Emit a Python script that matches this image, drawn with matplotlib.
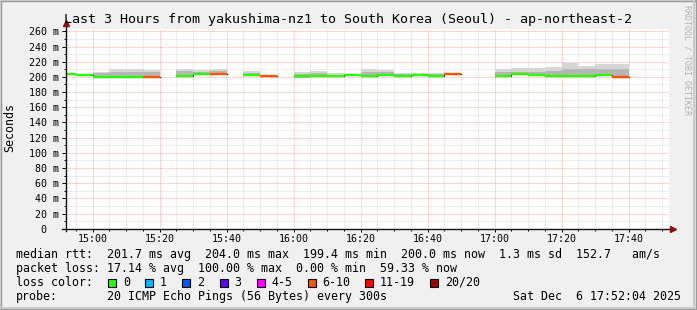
import numpy as np
import matplotlib.pyplot as plt
from matplotlib.patches import Rectangle

plt.rcParams['font.family'] = ['DejaVu Sans Mono', 'DejaVu Sans']

W, H = 697, 310


def hm(s):
    h, m = s.split(':')
    return int(h) * 60 + int(m)


def px(x, y):
    # pixel position (from top left) -> figure fraction
    return x / W, 1 - y / H


# time window of the graph
t_first = '14:52:04'
t_last = '17:52:04'

# 5 minute bins (start time), median rtt in ms, loss class index
bin_start = ['14:50', '14:55', '15:00', '15:05', '15:10', '15:15', '15:20', '15:25',
             '15:30', '15:35', '15:40', '15:45', '15:50', '15:55', '16:00', '16:05',
             '16:10', '16:15', '16:20', '16:25', '16:30', '16:35', '16:40', '16:45',
             '16:50', '16:55', '17:00', '17:05', '17:10', '17:15', '17:20', '17:25',
             '17:30', '17:35']
median = [203.8, 202.7, 200.5, 200.5, 200.5, 200.5, np.nan, 201.6,
          204.2, 204.2, np.nan, 203.0, 200.8, np.nan, 201.2, 201.2,
          201.5, 203.0, 201.2, 202.7, 201.5, 203.0, 201.5, 204.0,
          np.nan, np.nan, 201.5, 204.0, 202.3, 201.2, 201.2, 201.2,
          203.0, 200.3]
loss_idx = [0, 0, 0, 0, 0, 5, 7, 0,
            0, 5, 7, 0, 5, 7, 0, 0,
            0, 0, 0, 0, 0, 0, 0, 5,
            7, 7, 0, 0, 0, 0, 0, 0,
            0, 5]
# smoke: lowest ping, top of the dense band, highest ping
smoke_lo = [203.0, 202.0, 199.8, 199.8, 199.8, 199.8, np.nan, 200.8,
            203.4, 203.4, np.nan, 202.2, 200.0, np.nan, 198.5, 200.4,
            200.7, 202.2, 200.4, 201.9, 200.7, 202.2, 200.7, 203.2,
            np.nan, np.nan, 200.7, 203.2, 201.5, 200.4, 200.4, 200.4,
            202.2, 199.4]
smoke_mid = [203.8, 202.7, 204.5, 206.5, 206.5, 206.0, np.nan, 207.8,
             206.0, 208.0, np.nan, 205.5, 200.8, np.nan, 204.0, 205.0,
             203.0, 203.0, 207.0, 206.5, 203.5, 203.5, 203.5, 204.0,
             np.nan, np.nan, 206.0, 207.0, 207.0, 208.0, 210.0, 211.0,
             210.0, 211.0]
smoke_hi = [203.8, 202.7, 206.5, 210.0, 210.0, 209.0, np.nan, 211.0,
            208.7, 210.4, np.nan, 208.0, 200.8, np.nan, 206.4, 208.2,
            204.5, 203.0, 210.4, 209.3, 205.3, 204.5, 205.6, 204.0,
            np.nan, np.nan, 210.4, 211.3, 211.3, 213.0, 218.7, 214.4,
            217.0, 217.0]

loss_labels = ['0', '1', '2', '3', '4-5', '6-10', '11-19', '20/20']
loss_colors = ['#26ff00', '#00b8ff', '#0059ff', '#5e00ff', '#ff00ff',
               '#ff5500', '#ff0000', '#a10000']

y_ticks = list(range(0, 261, 20))
x_ticks = ['15:00', '15:20', '15:40', '16:00', '16:20', '16:40', '17:00', '17:20', '17:40']

title = 'Last 3 Hours from yakushima-nz1 to South Korea (Seoul) - ap-northeast-2'
legend_rows = [
    'median rtt:  201.7 ms avg  204.0 ms max  199.4 ms min  200.0 ms now  1.3 ms sd  152.7   am/s',
    'packet loss: 17.14 % avg  100.00 % max  0.00 % min  59.33 % now',
]
probe_text = '20 ICMP Echo Pings (56 Bytes) every 300s'
stamp = 'Sat Dec  6 17:52:04 2025'


def to_min(s):
    p = s.split(':')
    return int(p[0]) * 60 + int(p[1]) + (int(p[2]) / 60 if len(p) > 2 else 0)


fig = plt.figure(figsize=(W / 100, H / 100), dpi=100, facecolor='#f0f0f0')

# 3d-ish frame
fig.add_artist(Rectangle((0, 0), 1, 1, transform=fig.transFigure, fill=False,
                         edgecolor='#999999', linewidth=2.5))
fig.add_artist(Rectangle((0, 0.008), 0.996, 0.992, transform=fig.transFigure, fill=False,
                         edgecolor='#cbcbcb', linewidth=1.5))

ax = fig.add_axes([66 / W, (H - 228.7) / H, 603 / W, 200 / H])
ax.set_facecolor('white')
for s in ax.spines.values():
    s.set_visible(False)

x0 = np.array([hm(b) for b in bin_start], dtype=float)
med = np.array(median)
lo = np.array(smoke_lo)
mid = np.array(smoke_mid)
hi = np.array(smoke_hi)

# smoke
ax.bar(x0, hi - lo, bottom=lo, width=5, align='edge', color='#d6d6d6', linewidth=0, zorder=2)
ax.bar(x0, mid - lo, bottom=lo, width=5, align='edge', color='#b6b6b6', linewidth=0, zorder=2)

# thin dark median line with steps, then coloured median
ax.step(np.append(x0, x0[-1] + 5), np.append(med, med[-1]), where='post',
        color='#202020', linewidth=0.8, zorder=3)
ax.hlines(med, x0, x0 + 5, colors=[loss_colors[i] for i in loss_idx],
          linewidth=1.7, zorder=4)

ax.set_xlim(to_min(t_first), to_min(t_last))
ax.set_ylim(0, 263.5)

ax.set_yticks(y_ticks)
ax.set_yticklabels([f'{v} m' if v else '0  ' for v in y_ticks])
ax.set_yticks(np.arange(0, 264, 10), minor=True)
ax.set_xticks([hm(t) for t in x_ticks])
ax.set_xticklabels(x_ticks)
ax.set_xticks(np.arange(hm('14:55'), to_min(t_last), 5), minor=True)

ax.grid(which='major', color='#ffa8a8', linestyle=(0, (1, 1)), linewidth=0.72, zorder=0)
ax.grid(which='minor', color='#dadada', linestyle=(0, (1, 1)), linewidth=0.72, zorder=0)
ax.set_axisbelow(True)
ax.tick_params(axis='y', which='major', length=3, width=0.7, pad=1.8, labelsize=7.2)
ax.tick_params(axis='x', which='major', length=2, width=0.7, pad=1.5, labelsize=7.2)
ax.tick_params(which='minor', length=1.5, width=0.7)

# axes with arrows
ax.plot([-0.0066, 1.006], [0, 0], transform=ax.transAxes, color='#101010',
        linewidth=1.0, clip_on=False, zorder=6)
ax.plot([0, 0], [-0.01, 1.03], transform=ax.transAxes, color='#101010',
        linewidth=1.0, clip_on=False, zorder=6)
ax.plot([1.006], [0], marker='>', markersize=4.5, color='#8b1010',
        transform=ax.transAxes, clip_on=False, zorder=7)
ax.plot([0], [1.03], marker='^', markersize=4.5, color='#8b1010',
        transform=ax.transAxes, clip_on=False, zorder=7)

# texts
fig.text(*px(348.5, 19), title, ha='center', va='center', fontsize=9.6)
fig.text(*px(10, 128), 'Seconds', rotation=90, ha='center', va='center', fontsize=8.4)
fig.text(*px(687, 60), 'RRDTOOL / TOBI OETIKER', rotation=270, ha='center', va='center',
         fontsize=6, color='#b0b0b0')

fs = 8.4
fig.text(*px(16, 254.3), legend_rows[0], ha='left', va='center', fontsize=fs)
fig.text(*px(16, 268.3), legend_rows[1], ha='left', va='center', fontsize=fs)
fig.text(*px(16, 282.3), 'loss color:', ha='left', va='center', fontsize=fs)
box_x = [108, 145, 182, 219.5, 256.5, 307.5, 365, 430]
for bx, lab, col in zip(box_x, loss_labels, loss_colors):
    fig.add_artist(Rectangle(px(bx, 286.5), 8 / W, 8 / H, transform=fig.transFigure,
                             facecolor=col, edgecolor='black', linewidth=0.8))
    fig.text(*px(bx + 15, 282.3), lab, ha='left', va='center', fontsize=fs)
fig.text(*px(16, 296.3), 'probe:', ha='left', va='center', fontsize=fs)
fig.text(*px(107, 296.3), probe_text, ha='left', va='center', fontsize=fs)
fig.text(*px(681, 296.3), stamp, ha='right', va='center', fontsize=fs)

fig.savefig('out.png', dpi=100, facecolor=fig.get_facecolor())
